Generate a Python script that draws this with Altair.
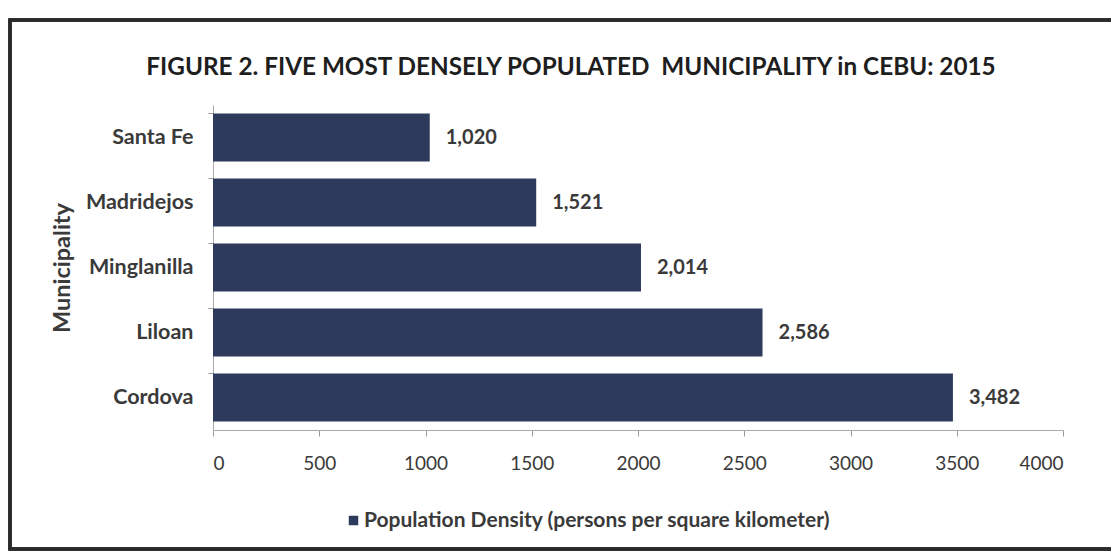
import altair as alt
import pandas as pd

municipalities = ["Santa Fe", "Madridejos", "Minglanilla", "Liloan", "Cordova"]
density = [1020, 1521, 2014, 2586, 3482]
density_labels = ["1,020", "1,521", "2,014", "2,586", "3,482"]
series_name = "Population Density (persons per square kilometer)"
x_ticks = [0, 500, 1000, 1500, 2000, 2500, 3000, 3500, 4000]

df = pd.DataFrame({
    "Municipality": municipalities,
    "Density": density,
    "Label": density_labels,
    "Series": [series_name] * len(municipalities),
})

FONT = "Lato"
NAVY = "#2d3a5c"
TEXT = "#3a3a3a"

y_enc = alt.Y(
    "Municipality:N",
    sort=municipalities,
    scale=alt.Scale(paddingInner=0.27, paddingOuter=0.135),
    axis=alt.Axis(
        title="Municipality",
        titleFont=FONT, titleFontSize=23.5, titleFontWeight="bold", titleColor=TEXT,
        titlePadding=11,
        labelFont=FONT, labelFontSize=21.5, labelFontWeight="bold", labelColor=TEXT,
        labelPadding=15,
        bandPosition=0, tickSize=5, tickColor="#999999",
        domainColor="#aaaaaa", grid=False,
    ),
)

x_enc = alt.X(
    "Density:Q",
    scale=alt.Scale(domain=[0, 4000], nice=False),
    axis=alt.Axis(
        title=None, values=x_ticks, format="d",
        labelFont=FONT, labelFontSize=19, labelColor=TEXT,
        labelPadding=18, tickSize=6, tickColor="#999999",
        domainColor="#aaaaaa", grid=False,
    ),
)

bars = alt.Chart(df).mark_bar(size=48).encode(
    x=x_enc,
    y=y_enc,
    color=alt.Color(
        "Series:N",
        scale=alt.Scale(range=[NAVY]),
        legend=alt.Legend(
            title=None, orient="none", legendX=130, legendY=405,
            symbolType="square", symbolSize=90, symbolStrokeWidth=0,
            labelFont=FONT, labelFontSize=21, labelFontWeight="bold",
            labelColor=TEXT, labelLimit=800, labelOffset=0,
        ),
    ),
)

labels = alt.Chart(df).mark_text(
    align="left", baseline="middle", dx=16,
    font=FONT, fontSize=20, fontWeight="bold", color=TEXT,
).encode(
    x="Density:Q",
    y=alt.Y("Municipality:N", sort=municipalities),
    text="Label:N",
)

frame = alt.Chart(df).mark_rect(
    fill=None, stroke="#2a2a2a", strokeWidth=3,
).encode(
    x=alt.value(-203), x2=alt.value(920),
    y=alt.value(-85), y2=alt.value(444),
)

chart = alt.layer(frame, bars, labels).properties(
    width=850,
    height=325,
    background="white",
    autosize=alt.AutoSizeParams(type="none"),
    padding={"left": 205, "top": 97, "right": 48, "bottom": 122},
    title=alt.TitleParams(
        text="FIGURE 2. FIVE MOST DENSELY POPULATED\u00a0 MUNICIPALITY in CEBU: 2015",
        font=FONT, fontSize=24.3, fontWeight="bold", color="#1e1e1e",
        anchor="middle", frame="group", dx=-67, offset=0, dy=62,
    ),
).configure_view(stroke=None)

chart.save("out.html", embed_options={"renderer": "svg", "actions": False})
